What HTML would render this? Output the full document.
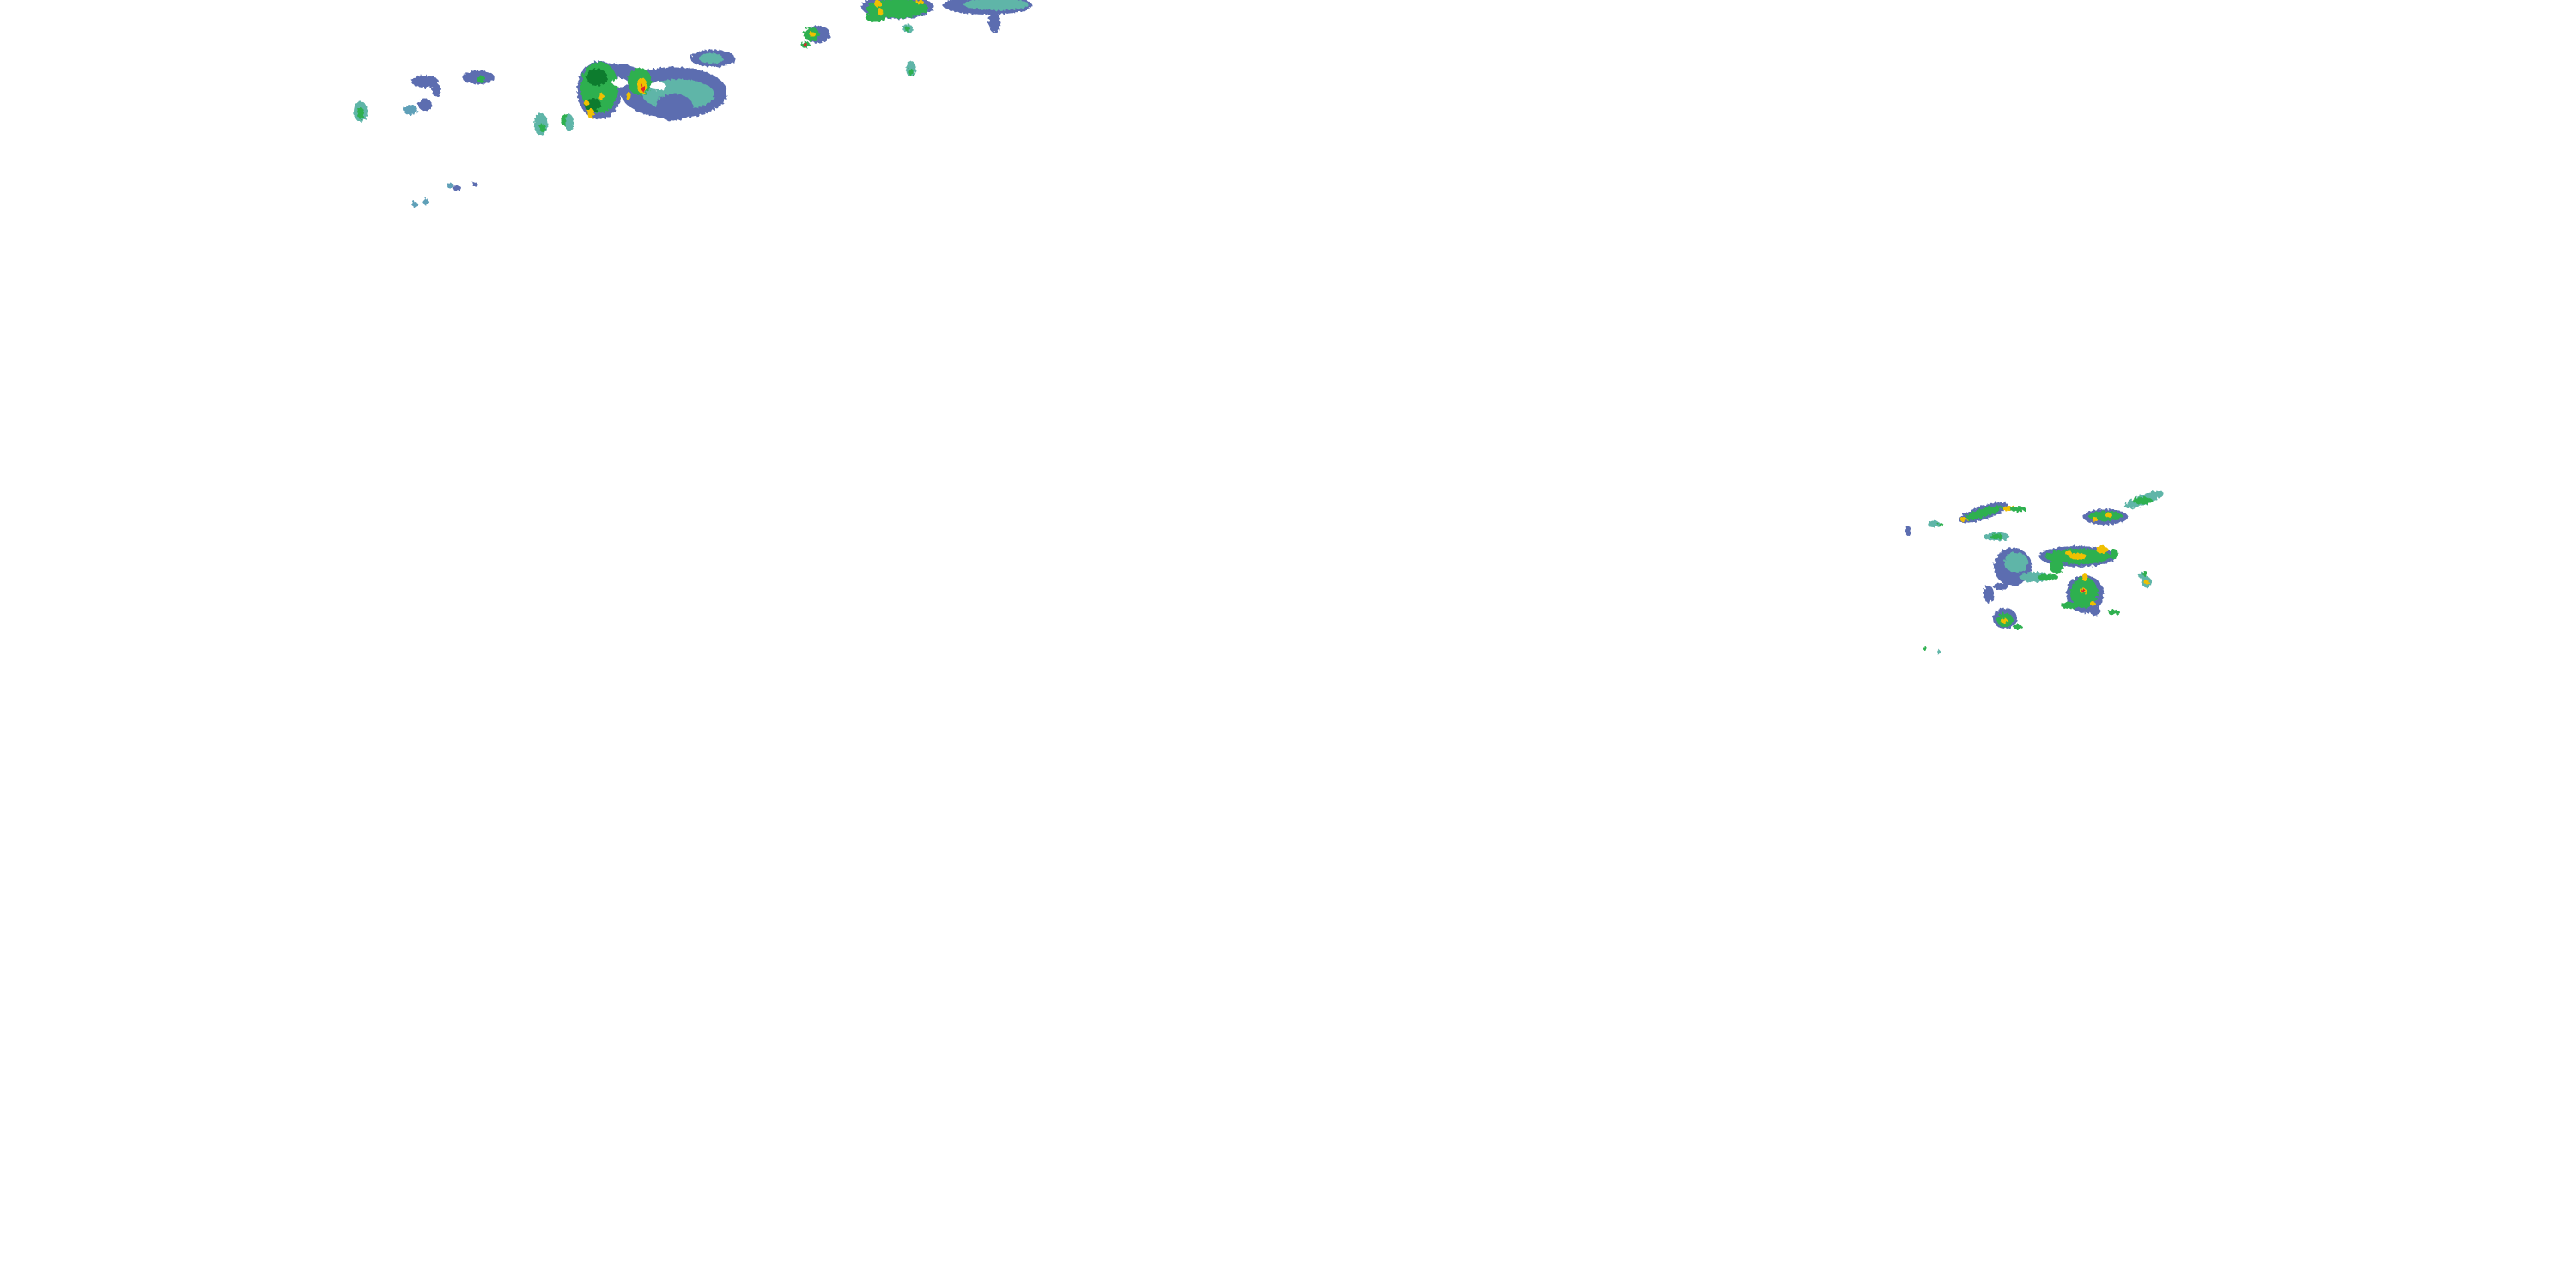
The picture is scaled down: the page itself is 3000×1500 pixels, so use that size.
<!DOCTYPE html>
<html><head><meta charset="utf-8"><style>
html,body{margin:0;padding:0;background:#fff;width:3000px;height:1500px;overflow:hidden}
svg{display:block}
</style></head><body>
<svg width="3000" height="1500" viewBox="0 0 3000 1500" xmlns="http://www.w3.org/2000/svg">
<defs>
<filter id="r"><feTurbulence type="fractalNoise" baseFrequency="0.35" numOctaves="1" seed="3"/><feDisplacementMap in="SourceGraphic" scale="6"/></filter>
</defs>
<g filter="url(#r)">
<!-- top-left cluster main blob -->
<ellipse cx="785" cy="108" rx="62" ry="30" fill="#5b6db0"/>
<ellipse cx="790" cy="110" rx="42" ry="18" fill="#5fb5a8"/>
<ellipse cx="785" cy="125" rx="22" ry="16" fill="#5b6db0"/>
<ellipse cx="712" cy="86" rx="35" ry="12" fill="#5b6db0"/>
<ellipse cx="698" cy="105" rx="26" ry="34" fill="#5b6db0"/>
<ellipse cx="698" cy="102" rx="22" ry="30" fill="#2fb04f"/>
<ellipse cx="695" cy="90" rx="12" ry="10" fill="#0f7c2f"/>
<ellipse cx="690" cy="122" rx="10" ry="8" fill="#0f7c2f"/>
<ellipse cx="688" cy="132" rx="4" ry="6" fill="#f0c000"/>
<ellipse cx="700" cy="112" rx="3" ry="4" fill="#f0c000"/>
<ellipse cx="683" cy="120" rx="3" ry="3" fill="#f0c000"/>
<ellipse cx="745" cy="95" rx="14" ry="16" fill="#2fb04f"/>
<ellipse cx="748" cy="100" rx="6" ry="9" fill="#f0c000"/>
<ellipse cx="749" cy="103" rx="2" ry="4" fill="#e0202a"/>
<ellipse cx="732" cy="112" rx="3" ry="5" fill="#f0c000"/>
<ellipse cx="722" cy="96" rx="9" ry="5" fill="#fff"/>
<ellipse cx="766" cy="100" rx="9" ry="5" fill="#fff"/>
<ellipse cx="660" cy="140" rx="7" ry="7" fill="#2fb04f"/>
<!-- smaller top-left blobs -->
<ellipse cx="830" cy="68" rx="26" ry="10" fill="#5b6db0"/>
<ellipse cx="828" cy="68" rx="14" ry="6" fill="#5fb5a8"/>
<ellipse cx="557" cy="90" rx="19" ry="8" fill="#5b6db0"/>
<ellipse cx="560" cy="92" rx="5" ry="4" fill="#2fb04f"/>
<ellipse cx="495" cy="95" rx="16" ry="7" fill="#5b6db0"/>
<ellipse cx="508" cy="105" rx="5" ry="8" fill="#5b6db0"/>
<ellipse cx="420" cy="130" rx="8" ry="12" fill="#5fb5a8"/>
<ellipse cx="420" cy="132" rx="4" ry="7" fill="#2fb04f"/>
<ellipse cx="478" cy="128" rx="8" ry="6" fill="#5fa0b8"/>
<ellipse cx="495" cy="122" rx="8" ry="7" fill="#5b6db0"/>
<ellipse cx="630" cy="145" rx="8" ry="13" fill="#5fb5a8"/>
<ellipse cx="632" cy="149" rx="4" ry="5" fill="#2fb04f"/>
<ellipse cx="663" cy="143" rx="5" ry="10" fill="#5fb5a8"/>
<ellipse cx="524" cy="216" rx="4" ry="3" fill="#5fa0b8"/>
<ellipse cx="532" cy="219" rx="5" ry="3" fill="#5b6db0"/>
<ellipse cx="553" cy="215" rx="3" ry="3" fill="#5b6db0"/>
<ellipse cx="483" cy="238" rx="3" ry="4" fill="#5fa0b8"/>
<ellipse cx="496" cy="235" rx="3" ry="4" fill="#5fa0b8"/>
<!-- top band -->
<ellipse cx="1045" cy="8" rx="42" ry="14" fill="#5b6db0"/>
<ellipse cx="1045" cy="10" rx="36" ry="11" fill="#2fb04f"/>
<ellipse cx="1020" cy="20" rx="12" ry="6" fill="#2fb04f"/>
<ellipse cx="1025" cy="14" rx="3" ry="4" fill="#f0c000"/>
<ellipse cx="1022" cy="4" rx="4" ry="4" fill="#f0c000"/>
<ellipse cx="1071" cy="2" rx="4" ry="3" fill="#f0c000"/>
<ellipse cx="1150" cy="6" rx="52" ry="11" fill="#5b6db0"/>
<ellipse cx="1160" cy="5" rx="38" ry="7" fill="#5fb5a8"/>
<ellipse cx="1158" cy="26" rx="7" ry="12" fill="#5b6db0"/>
<ellipse cx="1057" cy="33" rx="6" ry="5" fill="#5fb5a8"/>
<ellipse cx="1057" cy="34" rx="3" ry="3" fill="#2fb04f"/>
<ellipse cx="952" cy="40" rx="15" ry="10" fill="#5b6db0"/>
<ellipse cx="945" cy="40" rx="9" ry="8" fill="#2fb04f"/>
<ellipse cx="946" cy="40" rx="4" ry="3" fill="#f0c000"/>
<ellipse cx="938" cy="52" rx="5" ry="4" fill="#2fb04f"/>
<ellipse cx="938" cy="52" rx="2" ry="2" fill="#e0202a"/>
<ellipse cx="1061" cy="80" rx="6" ry="9" fill="#5fb5a8"/>
<ellipse cx="1061" cy="84" rx="3" ry="4" fill="#2fb04f"/>
<!-- right cluster -->
<ellipse cx="2344" cy="660" rx="22" ry="22" fill="#5b6db0"/>
<ellipse cx="2348" cy="655" rx="14" ry="12" fill="#5fb5a8"/>
<ellipse cx="2330" cy="683" rx="9" ry="4" fill="#5b6db0"/>
<ellipse cx="2316" cy="692" rx="6" ry="10" fill="#5b6db0"/>
<ellipse cx="2370" cy="672" rx="18" ry="6" fill="#5fb5a8"/>
<ellipse cx="2385" cy="672" rx="12" ry="4" fill="#2fb04f"/>
<ellipse cx="2420" cy="648" rx="45" ry="12" fill="#5b6db0"/>
<ellipse cx="2420" cy="648" rx="38" ry="9" fill="#2fb04f"/>
<ellipse cx="2420" cy="648" rx="10" ry="4" fill="#f0c000"/>
<ellipse cx="2409" cy="644" rx="4" ry="3" fill="#f0c000"/>
<ellipse cx="2448" cy="640" rx="7" ry="4" fill="#f0c000"/>
<ellipse cx="2462" cy="645" rx="5" ry="6" fill="#2fb04f"/>
<ellipse cx="2395" cy="660" rx="8" ry="8" fill="#2fb04f"/>
<ellipse cx="2428" cy="692" rx="22" ry="22" fill="#5b6db0"/>
<ellipse cx="2427" cy="690" rx="16" ry="18" fill="#2fb04f"/>
<ellipse cx="2426" cy="688" rx="4" ry="3" fill="#f0c000"/>
<ellipse cx="2426" cy="688" rx="2" ry="2" fill="#e0202a"/>
<ellipse cx="2428" cy="672" rx="3" ry="5" fill="#f0c000"/>
<ellipse cx="2437" cy="703" rx="3" ry="3" fill="#f0c000"/>
<ellipse cx="2410" cy="705" rx="10" ry="4" fill="#2fb04f"/>
<ellipse cx="2440" cy="712" rx="6" ry="5" fill="#5b6db0"/>
<ellipse cx="2335" cy="720" rx="14" ry="12" fill="#5b6db0"/>
<ellipse cx="2335" cy="722" rx="10" ry="8" fill="#2fb04f"/>
<ellipse cx="2334" cy="723" rx="4" ry="3" fill="#f0c000"/>
<ellipse cx="2350" cy="730" rx="5" ry="3" fill="#2fb04f"/>
<ellipse cx="2310" cy="597" rx="30" ry="8" fill="#5b6db0" transform="rotate(-18 2310 597)"/>
<ellipse cx="2310" cy="597" rx="24" ry="5" fill="#2fb04f" transform="rotate(-18 2310 597)"/>
<ellipse cx="2340" cy="592" rx="8" ry="3" fill="#f0c000"/>
<ellipse cx="2287" cy="605" rx="4" ry="3" fill="#f0c000"/>
<ellipse cx="2350" cy="593" rx="10" ry="3" fill="#2fb04f"/>
<ellipse cx="2452" cy="602" rx="26" ry="9" fill="#5b6db0"/>
<ellipse cx="2452" cy="601" rx="20" ry="6" fill="#2fb04f"/>
<ellipse cx="2456" cy="600" rx="4" ry="3" fill="#f0c000"/>
<ellipse cx="2440" cy="605" rx="3" ry="3" fill="#f0c000"/>
<ellipse cx="2497" cy="582" rx="24" ry="6" fill="#5fb5a8" transform="rotate(-20 2497 582)"/>
<ellipse cx="2495" cy="583" rx="12" ry="4" fill="#2fb04f"/>
<ellipse cx="2325" cy="625" rx="15" ry="5" fill="#5fb5a8"/>
<ellipse cx="2325" cy="625" rx="8" ry="3" fill="#2fb04f"/>
<ellipse cx="2252" cy="610" rx="7" ry="4" fill="#5fb5a8"/>
<ellipse cx="2260" cy="611" rx="3" ry="2" fill="#2fb04f"/>
<ellipse cx="2222" cy="618" rx="3" ry="6" fill="#5b6db0"/>
<ellipse cx="2500" cy="678" rx="6" ry="6" fill="#5fb5a8"/>
<ellipse cx="2500" cy="678" rx="3" ry="3" fill="#f0c000"/>
<ellipse cx="2495" cy="670" rx="5" ry="4" fill="#5fb5a8"/>
<ellipse cx="2462" cy="713" rx="7" ry="3" fill="#2fb04f"/>
<ellipse cx="2498" cy="668" rx="3" ry="3" fill="#2fb04f"/>
<ellipse cx="2242" cy="755" rx="2" ry="3" fill="#2fb04f"/>
<ellipse cx="2258" cy="760" rx="2" ry="3" fill="#5fb5a8"/>
</g>
</svg>
</body></html>
